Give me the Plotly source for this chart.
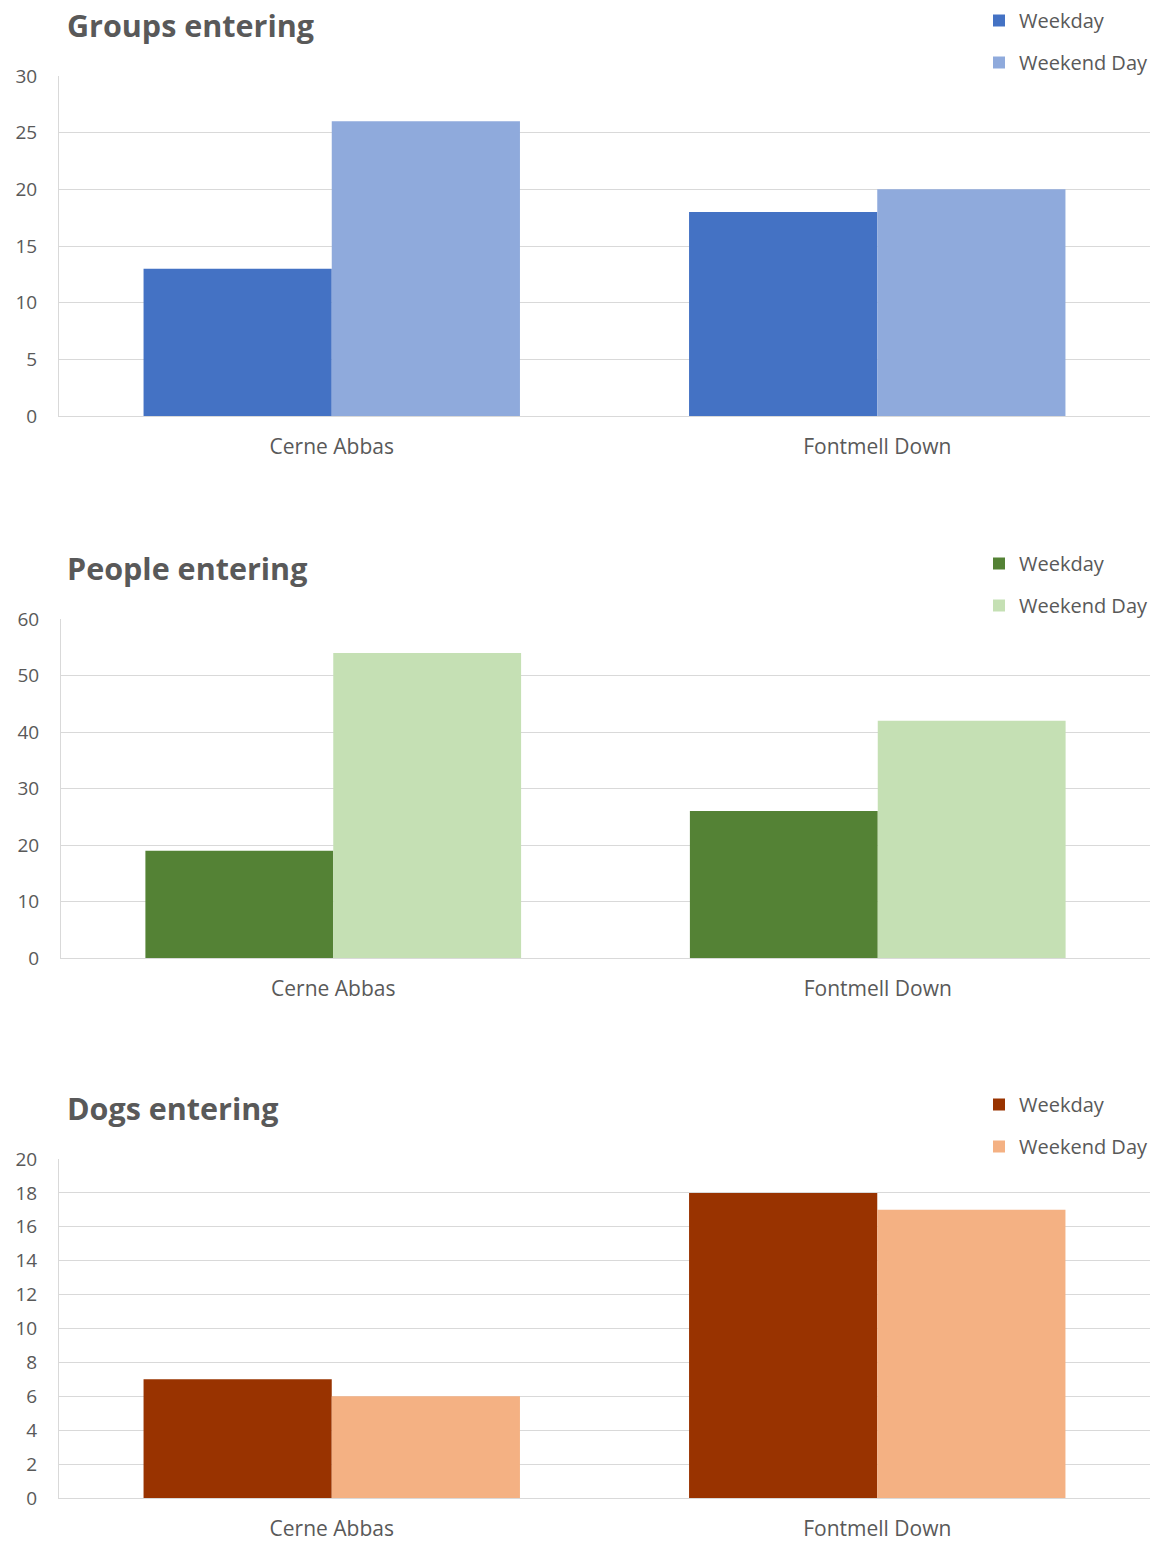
import plotly.graph_objects as go

# Sites surveyed
sites = ["Cerne Abbas", "Fontmell Down"]

# Counts per site
groups_weekday = [13, 18]
groups_weekend = [26, 20]
people_weekday = [19, 26]
people_weekend = [54, 42]
dogs_weekday = [7, 18]
dogs_weekend = [6, 17]

panel_titles = ["Groups entering", "People entering", "Dogs entering"]
series_names = ["Weekday", "Weekend Day"]

colors = [
    ("#4472C4", "#8FAADC"),
    ("#548235", "#C5E0B4"),
    ("#993300", "#F4B183"),
]

panels = [
    (groups_weekday, groups_weekend, [0, 30], 5),
    (people_weekday, people_weekend, [0, 60], 10),
    (dogs_weekday, dogs_weekend, [0, 20], 2),
]

W, H = 1162, 1541
FONT = "Open Sans"
GREY = "#595959"
GRID = "#D9D9D9"

# pixel layout of each panel: (left, right, top, bottom)
boxes = [
    (59, 1150, 76, 416),
    (61, 1150, 619, 958),
    (59, 1150, 1159, 1498),
]
title_y = [25, 568, 1108]
legend_top = [1, 544, 1085]

fig = go.Figure()
layout = {}
for i, ((wk, we, rng, dt), (c1, c2), (l, r, t, b)) in enumerate(zip(panels, colors, boxes)):
    n = "" if i == 0 else str(i + 1)
    xa, ya = "x" + n, "y" + n
    leg = "legend" + n
    for vals, col, name in ((wk, c1, series_names[0]), (we, c2, series_names[1])):
        fig.add_trace(go.Bar(
            x=sites, y=vals, name=name, marker=dict(color=col, line=dict(width=0)),
            xaxis=xa, yaxis=ya, legend=leg, legendgroup=f"{leg}-{name}",
        ))
    layout["xaxis" + n] = dict(
        domain=[l / W, r / W], anchor=ya, showgrid=False, showline=True,
        linecolor=GRID, linewidth=1, ticks="", zeroline=False, automargin=False,
        tickfont=dict(family=FONT, size=21, color=GREY), ticklabelstandoff=12,
    )
    layout["yaxis" + n] = dict(
        domain=[1 - b / H, 1 - t / H], anchor=xa, range=rng, dtick=dt,
        showgrid=True, gridcolor=GRID, gridwidth=1, showline=True,
        linecolor=GRID, linewidth=1, zeroline=False, ticks="", automargin=False,
        tickfont=dict(family=FONT, size=19, color=GREY), ticklabelstandoff=17,
    )
    layout[leg] = dict(
        x=979 / W, xanchor="left", y=1 - legend_top[i] / H, yanchor="top",
        bgcolor="white", borderwidth=0, traceorder="grouped", tracegroupgap=13,
        font=dict(family=FONT, size=20, color=GREY),
    )
    fig.add_annotation(
        text=f"<b>{panel_titles[i]}</b>", xref="paper", yref="paper",
        x=65 / W, y=1 - title_y[i] / H, xanchor="left", yanchor="middle",
        showarrow=False, font=dict(family=FONT, size=30.5, color=GREY),
    )

fig.update_layout(
    width=W, height=H, margin=dict(l=0, r=0, t=0, b=0, autoexpand=False),
    paper_bgcolor="white", plot_bgcolor="white",
    barmode="group", bargap=0.31, bargroupgap=0,
    **layout,
)

fig.write_html("out.html")
